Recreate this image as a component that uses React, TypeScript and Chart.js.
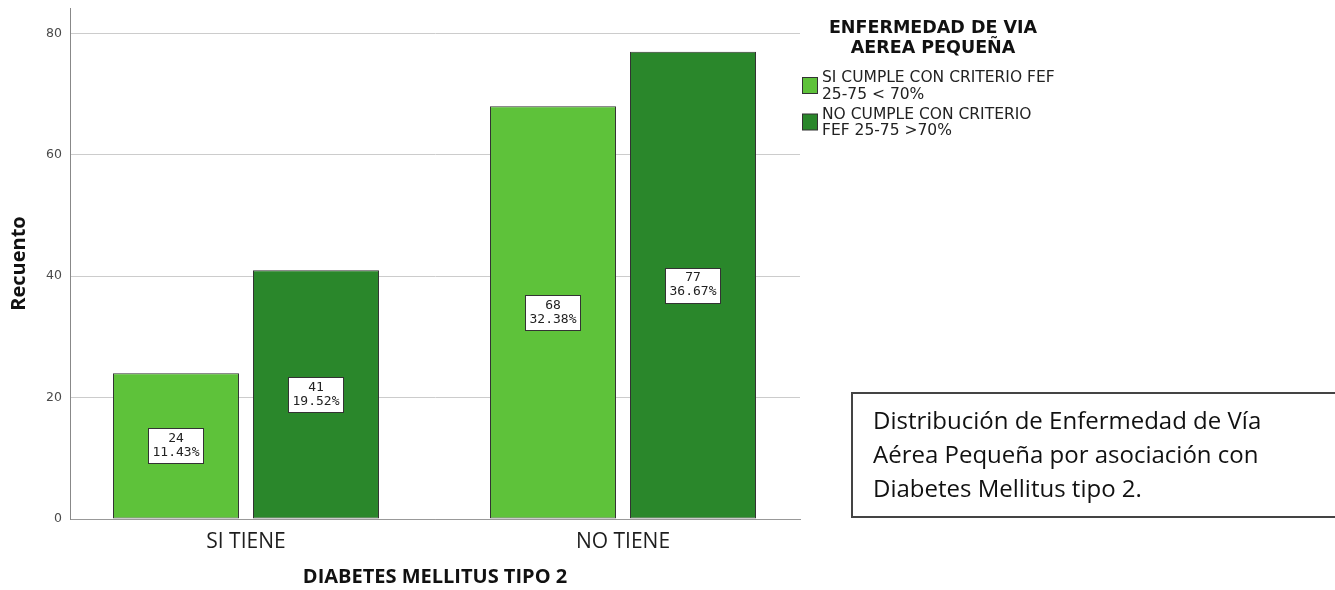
import React, { useEffect, useRef } from "react";
import { Chart, registerables } from "chart.js";

Chart.register(...registerables);

// ---- data ----
const categories = ["SI TIENE", "NO TIENE"];
const cumpleValues = [24, 68];
const noCumpleValues = [41, 77];
const seriesLabels = [
  ["SI CUMPLE CON CRITERIO FEF", "25-75 < 70%"],
  ["NO CUMPLE CON CRITERIO", "FEF 25-75 >70%"],
];
const seriesColors = ["#5EC23A", "#2A872B"];
const yTickValues = [0, 20, 40, 60, 80];
const legendTitle = ["ENFERMEDAD DE VIA", "AEREA PEQUEÑA"];
const xTitle = "DIABETES MELLITUS TIPO 2";
const yTitle = "Recuento";
const noteLines = [
  "Distribución de Enfermedad de Vía",
  "Aérea Pequeña por asociación con",
  "Diabetes Mellitus tipo 2.",
];

const total = [...cumpleValues, ...noCumpleValues].reduce((a, b) => a + b, 0);

// Count + percentage boxes centred inside each bar
const barLabelPlugin = {
  id: "barLabels",
  afterDatasetsDraw(chart: any) {
    const ctx = chart.ctx;
    ctx.save();
    ctx.font = '13px "DejaVu Sans Mono"';
    ctx.textAlign = "center";
    ctx.textBaseline = "middle";
    chart.data.datasets.forEach((ds: any, di: number) => {
      const meta = chart.getDatasetMeta(di);
      meta.data.forEach((bar: any, i: number) => {
        const v = ds.data[i].y;
        const { x, y, base } = bar.getProps(["x", "y", "base"], true);
        const cy = (y + base) / 2;
        const lines = [String(v), ((v / total) * 100).toFixed(2) + "%"];
        const w = Math.ceil(Math.max(...lines.map((l) => ctx.measureText(l).width))) + 8;
        const h = 35;
        const left = Math.round(x - w / 2) + 0.5;
        const top = Math.round(cy - h / 2) + 0.5;
        ctx.fillStyle = "#ffffff";
        ctx.fillRect(left, top, w, h);
        ctx.strokeStyle = "#333333";
        ctx.lineWidth = 1;
        ctx.strokeRect(left, top, w, h);
        ctx.fillStyle = "#222222";
        ctx.fillText(lines[0], x, cy - 7);
        ctx.fillText(lines[1], x, cy + 7);
      });
    });
    ctx.restore();
  },
};

// Legend with a two-line title and two-line entries, to the right of the plot
const sideLegendPlugin = {
  id: "sideLegend",
  afterDraw(chart: any) {
    const ctx = chart.ctx;
    const area = chart.chartArea;
    ctx.save();
    ctx.fillStyle = "#111111";
    ctx.textAlign = "center";
    ctx.textBaseline = "alphabetic";
    ctx.font = 'bold 17.5px "DejaVu Sans"';
    const cx = area.right + 133;
    ctx.fillText(legendTitle[0], cx, 33);
    ctx.fillText(legendTitle[1], cx, 53);

    ctx.textAlign = "left";
    ctx.font = '15.5px "DejaVu Sans"';
    chart.data.datasets.forEach((ds: any, di: number) => {
      const top = 77 + di * 36.5;
      ctx.fillStyle = ds.backgroundColor;
      ctx.fillRect(area.right + 2.5, top + 0.5, 15, 16);
      ctx.strokeStyle = "#333333";
      ctx.lineWidth = 1;
      ctx.strokeRect(area.right + 2.5, top + 0.5, 15, 16);
      ctx.fillStyle = "#222222";
      const lines = seriesLabels[di];
      lines.forEach((l, li) => {
        ctx.fillText(l, area.right + 22, top + 5 + li * 16.5);
      });
    });
    ctx.restore();
  },
};

export default function App() {
  const canvasRef = useRef<HTMLCanvasElement | null>(null);

  useEffect(() => {
    if (!canvasRef.current) return;
    const chart = new Chart(canvasRef.current, {
      type: "bar",
      data: {
        datasets: [
          {
            label: seriesLabels[0].join(" "),
            data: cumpleValues.map((v, i) => ({ x: i, y: v })),
            backgroundColor: seriesColors[0],
            borderColor: "#333333",
            borderWidth: 1,
            borderSkipped: false,
          },
          {
            label: seriesLabels[1].join(" "),
            data: noCumpleValues.map((v, i) => ({ x: i, y: v })),
            backgroundColor: seriesColors[1],
            borderColor: "#333333",
            borderWidth: 1,
            borderSkipped: false,
          },
        ],
      },
      options: {
        responsive: false,
        animation: false,
        devicePixelRatio: 1,
        categoryPercentage: 0.7427,
        barPercentage: 0.9,
        layout: { padding: { top: 8, right: 535, left: 0, bottom: 0 } },
        plugins: {
          legend: { display: false },
          tooltip: { enabled: false },
        },
        scales: {
          x: {
            type: "linear",
            offset: false,
            min: -0.4668,
            max: 1.4695,
            afterBuildTicks: (scale: any) => {
              scale.ticks = categories.map((_, i) => ({ value: i }));
            },
            afterFit: (scale: any) => {
              scale.height = 71;
              scale.paddingLeft = 0;
              scale.paddingRight = 0;
            },
            grid: { display: false, offset: false },
            border: { display: true, color: "#999999", width: 1 },
            ticks: {
              autoSkip: false,
              maxRotation: 0,
              padding: 2,
              color: "#1e1e1e",
              font: { family: "Open Sans", size: 21 },
              callback: (v: any) => categories[v] ?? "",
            },
            title: {
              display: true,
              text: xTitle,
              color: "#111111",
              font: { family: "Open Sans", size: 20, weight: "bold" },
              padding: { top: 0, bottom: 1 },
            },
          },
          y: {
            min: 0,
            max: 84.2,
            afterBuildTicks: (scale: any) => {
              scale.ticks = yTickValues.map((v) => ({ value: v }));
            },
            afterFit: (scale: any) => {
              scale.width = 70;
              scale.paddingTop = 0;
              scale.paddingBottom = 0;
            },
            grid: {
              color: (c: any) => (c.tick && c.tick.value === 0 ? "#999999" : "#cccccc"),
              drawTicks: false,
            },
            border: { display: true, color: "#888888", width: 1 },
            ticks: {
              padding: 8,
              color: "#4a4a4a",
              font: { family: "DejaVu Sans", size: 12.5 },
            },
            title: {
              display: true,
              text: yTitle,
              color: "#111111",
              font: { family: "Open Sans", size: 20, weight: "bold" },
              padding: { top: 7, bottom: 0 },
            },
          },
        },
      },
      plugins: [barLabelPlugin, sideLegendPlugin],
    } as any);
    return () => chart.destroy();
  }, []);

  return (
    <div
      style={{
        position: "absolute",
        left: 0,
        top: 0,
        width: 1335,
        height: 590,
        overflow: "hidden",
        background: "#ffffff",
      }}
    >
      <canvas ref={canvasRef} width={1335} height={590} style={{ display: "block" }} />
      <div
        style={{
          position: "absolute",
          left: 851,
          top: 392,
          width: 520,
          height: 126,
          boxSizing: "border-box",
          borderTop: "2px solid #444444",
          borderLeft: "2px solid #444444",
          borderBottom: "2px solid #444444",
          padding: "9px 0 0 20px",
          fontFamily: '"Open Sans", sans-serif',
          fontSize: 24,
          lineHeight: "34px",
          color: "#111111",
          whiteSpace: "nowrap",
        }}
      >
        {noteLines.map((l) => (
          <div key={l}>{l}</div>
        ))}
      </div>
    </div>
  );
}
